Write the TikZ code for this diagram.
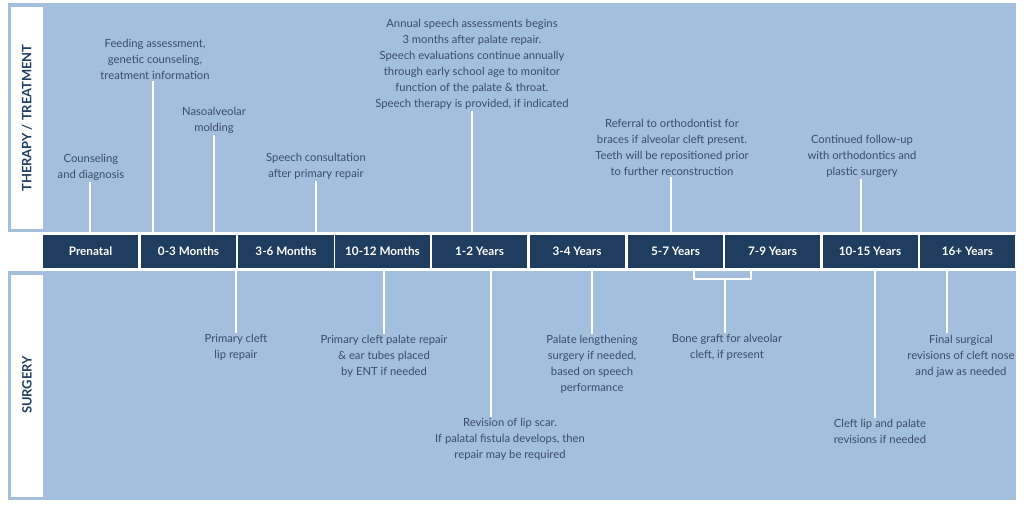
\documentclass[tikz,border=0pt]{standalone}
\usepackage{fontspec}
\setmainfont{Lato}
\usetikzlibrary{positioning}
\definecolor{panelblue}{HTML}{A4BFDD}
\definecolor{navy}{HTML}{1F3D5F}
\definecolor{txtblue}{HTML}{3B4B68}
\tikzstyle{age} = [rectangle,fill=navy,text=white,minimum height=1cm,minimum width=2.85cm,font=\fontsize{10}{12}\selectfont\bfseries]
\tikzstyle{note} = [align=center,text=txtblue,inner sep=1pt,font=\fontsize{9.6}{13.6}\selectfont]
\tikzstyle{link} = [draw=white,line width=1.6pt]
\begin{document}
\begin{tikzpicture}[x=0.03cm,y=-0.03cm]
    \useasboundingbox (0,0) rectangle (1024,507);
    % Panels
    \fill[panelblue] (8,3) rectangle (1016,232);
    \fill[white] (11,7) rectangle (43,229);
    \fill[panelblue] (8,271) rectangle (1016,500);
    \fill[white] (11,275) rectangle (43,497);
    \node[rotate=90,text=navy,font=\fontsize{11}{12}\selectfont\bfseries] (thr) at (27,118) {THERAPY / TREATMENT};
    \node[rotate=90,text=navy,font=\fontsize{11}{12}\selectfont\bfseries] (srg) at (27,385) {SURGERY};
    % Time line blocks
    \node[age] (b1) at (90.5,251.5) {Prenatal};
    \node[age] (b2) at (188.5,251.5) {0-3 Months};
    \node[age] (b3) at (286,251.5) {3-6 Months};
    \node[age] (b4) at (382.5,251.5) {10-12 Months};
    \node[age] (b5) at (479.5,251.5) {1-2 Years};
    \node[age] (b6) at (577,251.5) {3-4 Years};
    \node[age] (b7) at (675.5,251.5) {5-7 Years};
    \node[age] (b8) at (772.5,251.5) {7-9 Years};
    \node[age] (b9) at (870,251.5) {10-15 Years};
    \node[age] (b10) at (967.5,251.5) {16+ Years};
    % Therapy notes
    \node[note] (cns) at (91,167) {Counseling\\and diagnosis};
    \node[note] (fed) at (155,59) {Feeding assessment,\\genetic counseling,\\treatment information};
    \node[note] (nas) at (214,120) {Nasoalveolar\\molding};
    \node[note] (spc) at (316,166.5) {Speech consultation\\after primary repair};
    \node[note] (ann) at (472,64.5) {Annual speech assessments begins\\3 months after palate repair.\\Speech evaluations continue annually\\through early school age to monitor\\function of the palate \& throat.\\Speech therapy is provided, if indicated};
    \node[note] (ref) at (672,147.5) {Referral to orthodontist for\\braces if alveolar cleft present.\\Teeth will be repositioned prior\\to further reconstruction};
    \node[note] (con) at (862,156) {Continued follow-up\\with orthodontics and\\plastic surgery};
    % Surgery notes
    \node[note] (lip) at (236,347.5) {Primary cleft\\lip repair};
    \node[note] (pal) at (384,356) {Primary cleft palate repair\\\& ear tubes placed\\by ENT if needed};
    \node[note] (rev) at (510,439.5) {Revision of lip scar.\\If palatal fistula develops, then\\repair may be required};
    \node[note] (len) at (592,364) {Palate lengthening\\surgery if needed,\\based on speech\\performance};
    \node[note] (bon) at (727,347.5) {Bone graft for alveolar\\cleft, if present};
    \node[note] (clr) at (880,431.5) {Cleft lip and palate\\revisions if needed};
    \node[note] (fin) at (961,356) {Final surgical\\revisions of cleft nose\\and jaw as needed};
    \coordinate (bl) at (694,279);
    \coordinate (br) at (751,279);
    % Connectors
    \draw[link] ([xshift=-1]cns.south) -- ([xshift=-1]cns.south |- b1.north);
    \draw[link] ([xshift=-2]fed.south) -- ([xshift=-2]fed.south |- b2.north);
    \draw[link] (nas.south) -- (nas.south |- b2.north);
    \draw[link] (spc.south) -- (spc.south |- b3.north);
    \draw[link] (ann.south) -- (ann.south |- b5.north);
    \draw[link] ([xshift=-1]ref.south) -- ([xshift=-1]ref.south |- b7.north);
    \draw[link] ([xshift=-1]con.south) -- ([xshift=-1]con.south |- b9.north);
    \draw[link] (lip.north) -- (lip.north |- b2.south);
    \draw[link] (pal.north) -- (pal.north |- b4.south);
    \draw[link] ([xshift=-16]rev.north) -- ([xshift=-16]rev.north |- b5.south);
    \draw[link] (len.north) -- (len.north |- b6.south);
    \draw[link] ([xshift=-2]bon.north) -- ([xshift=-2]bon.north |- bl);
    \draw[link] (bl |- b7.south) -- (bl) -- (br) -- (br |- b8.south);
    \draw[link] ([xshift=-4]clr.north) -- ([xshift=-4]clr.north |- b9.south);
    \draw[link] ([xshift=-12]fin.north) -- ([xshift=-12]fin.north |- b10.south);
\end{tikzpicture}
\end{document}
